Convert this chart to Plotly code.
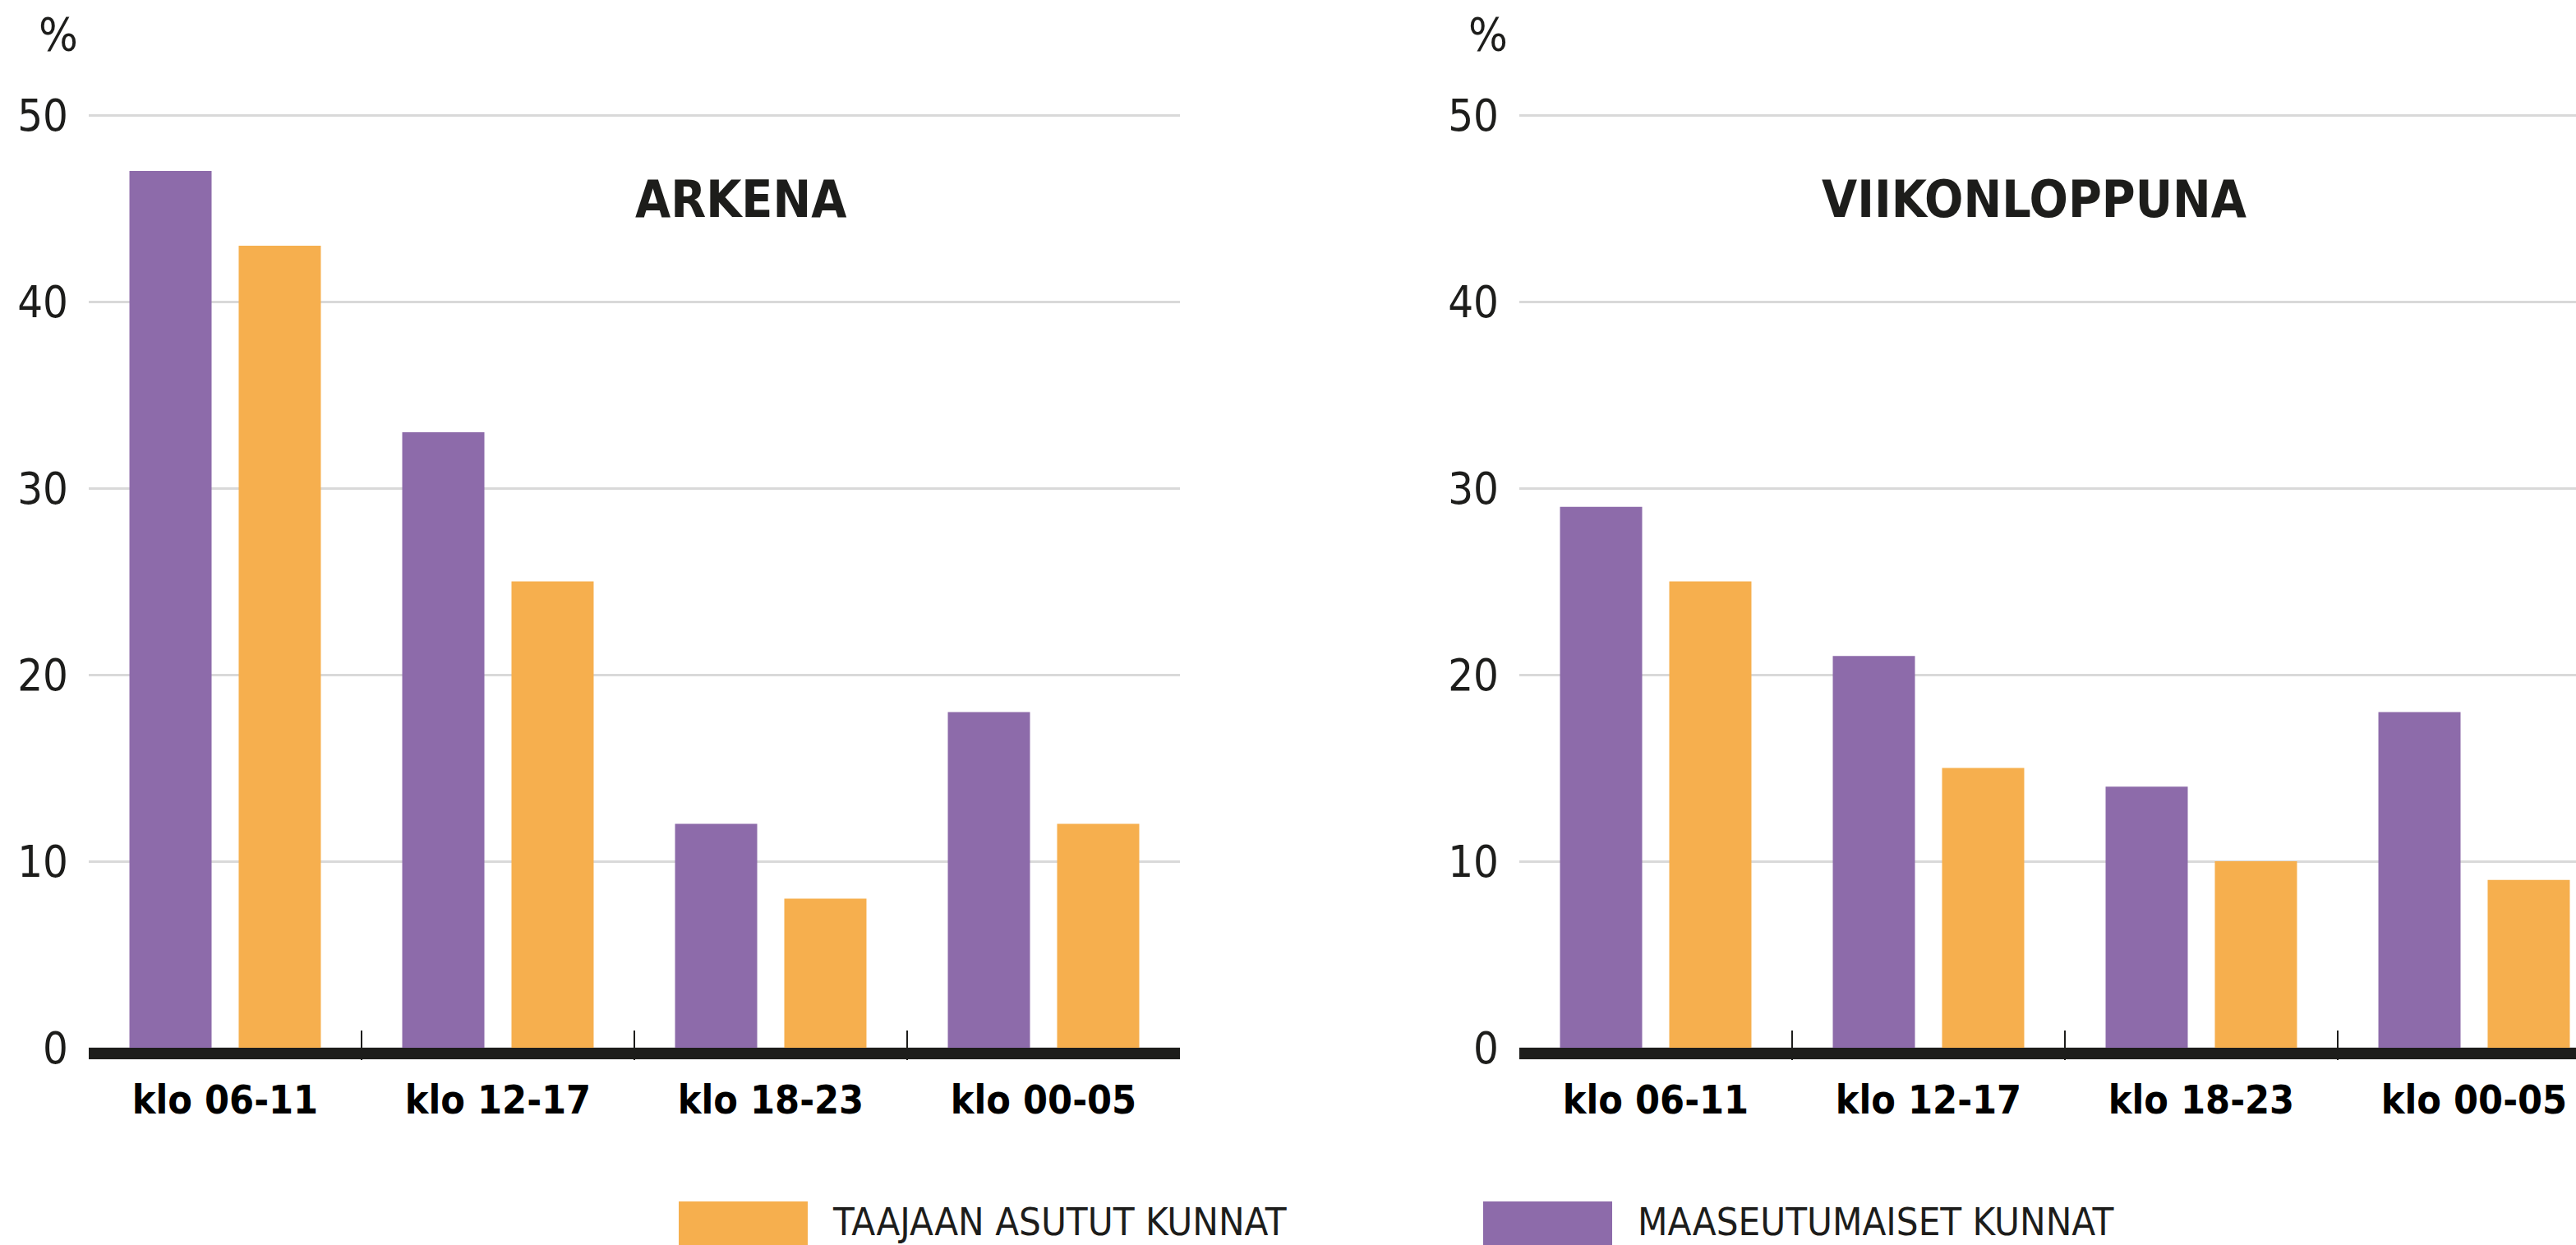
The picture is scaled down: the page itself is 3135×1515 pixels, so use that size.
import plotly.graph_objects as go

categories = ["klo 06-11", "klo 12-17", "klo 18-23", "klo 00-05"]
series_names = ["MAASEUTUMAISET KUNNAT", "TAAJAAN ASUTUT KUNNAT"]
arkena_maaseutu = [47, 33, 12, 18]
arkena_taajama = [43, 25, 8, 12]
viikonloppu_maaseutu = [29, 21, 14, 18]
viikonloppu_taajama = [25, 15, 10, 9]
panel_titles = ["ARKENA", "VIIKONLOPPUNA"]
y_ticks = [0, 10, 20, 30, 40, 50]

PURPLE = "#8D6BAA"
ORANGE = "#F6AF4E"
INK = "#1d1d1b"
FONT = "Liberation Sans Narrow, DejaVu Sans Condensed, Roboto, sans-serif"

W, H = 3135, 1515
ML, MR, MT, MB = 108, 0, 100, 225
PW = W - ML - MR
PH = H - MT - MB
UNIT = 22.7  # px per %
ymax = 50 + (140 - MT) / UNIT
ymin = -(MT + PH - 1275) / UNIT

def px_x(px):
    return (px - ML) / PW

def px_y(py):
    return (MT + PH - py) / PH

fig = go.Figure()
fig.add_trace(go.Bar(x=categories, y=arkena_maaseutu, name=series_names[0],
                     marker_color=PURPLE, xaxis="x", yaxis="y", showlegend=False))
fig.add_trace(go.Bar(x=categories, y=arkena_taajama, name=series_names[1],
                     marker_color=ORANGE, xaxis="x", yaxis="y", showlegend=False))
fig.add_trace(go.Bar(x=categories, y=viikonloppu_maaseutu, name=series_names[0],
                     marker_color=PURPLE, xaxis="x2", yaxis="y2", showlegend=False))
fig.add_trace(go.Bar(x=categories, y=viikonloppu_taajama, name=series_names[1],
                     marker_color=ORANGE, xaxis="x2", yaxis="y2", showlegend=False))

dom1 = [0, px_x(1436)]
dom2 = [px_x(1849), 1]
right_range_end = -0.5 + (W - 1849) / 332.0

xcommon = dict(type="category", showgrid=False, zeroline=False, showline=False,
               ticks="inside", ticklen=36, tickwidth=2, tickcolor=INK, tickson="boundaries",
               tickfont=dict(family=FONT, size=48, color="#000000", weight="bold"),
               ticklabelstandoff=16, fixedrange=True, automargin=False)
ycommon = dict(range=[ymin, ymax], tickvals=y_ticks, showgrid=True, gridcolor="#d9d9d9",
               gridwidth=3, zeroline=False, showline=False, ticks="", automargin=False,
               tickfont=dict(family=FONT, size=54, color=INK), ticklabelstandoff=24)

fig.update_layout(
    template="none",
    width=W, height=H,
    margin=dict(l=ML, r=MR, t=MT, b=MB, pad=0, autoexpand=False),
    paper_bgcolor="white", plot_bgcolor="white",
    barmode="group", bargap=0.199, bargroupgap=0.248,
    xaxis=dict(domain=dom1, anchor="y", range=[-0.5, 3.5], **xcommon),
    xaxis2=dict(domain=dom2, anchor="y2", range=[-0.5, right_range_end], **xcommon),
    yaxis=dict(anchor="x", **ycommon),
    yaxis2=dict(anchor="x2", **ycommon),
    showlegend=False,
)

shapes = []
for xr, yr in [("x domain", "y"), ("x2 domain", "y2")]:
    shapes.append(dict(type="rect", xref=xr, yref=yr, x0=0, x1=1, y0=-14 / UNIT, y1=0,
                       fillcolor=INK, line=dict(width=0), layer="above"))

# legend (manual)
legend_items = [(series_names[1], ORANGE, 826, 983, 1011), (series_names[0], PURPLE, 1805, 1962, 1991)]
annotations = []
for name, col, x0, x1, tx in legend_items:
    shapes.append(dict(type="rect", xref="paper", yref="paper", x0=px_x(x0), x1=px_x(x1),
                       y0=px_y(1530), y1=px_y(1462), fillcolor=col, line=dict(width=0)))
    annotations.append(dict(xref="paper", yref="paper", x=px_x(tx), y=px_y(1486),
                            xanchor="left", yanchor="middle", showarrow=False, text=name,
                            font=dict(family=FONT, size=47, color=INK)))

for title, cx in zip(panel_titles, [901, 2475]):
    annotations.append(dict(xref="paper", yref="paper", x=px_x(cx), y=px_y(242),
                            xanchor="center", yanchor="middle", showarrow=False, text=title,
                            font=dict(family=FONT, size=62, color=INK, weight="bold")))

for cx in [71, 1811]:
    annotations.append(dict(xref="paper", yref="paper", x=px_x(cx), y=px_y(42),
                            xanchor="center", yanchor="middle", showarrow=False, text="%",
                            font=dict(family=FONT, size=56, color=INK)))

fig.update_layout(shapes=shapes, annotations=annotations)
fig.write_html("out.html", config={"displayModeBar": False},
               post_script="document.body.style.margin='0';document.body.style.overflow='hidden';")
